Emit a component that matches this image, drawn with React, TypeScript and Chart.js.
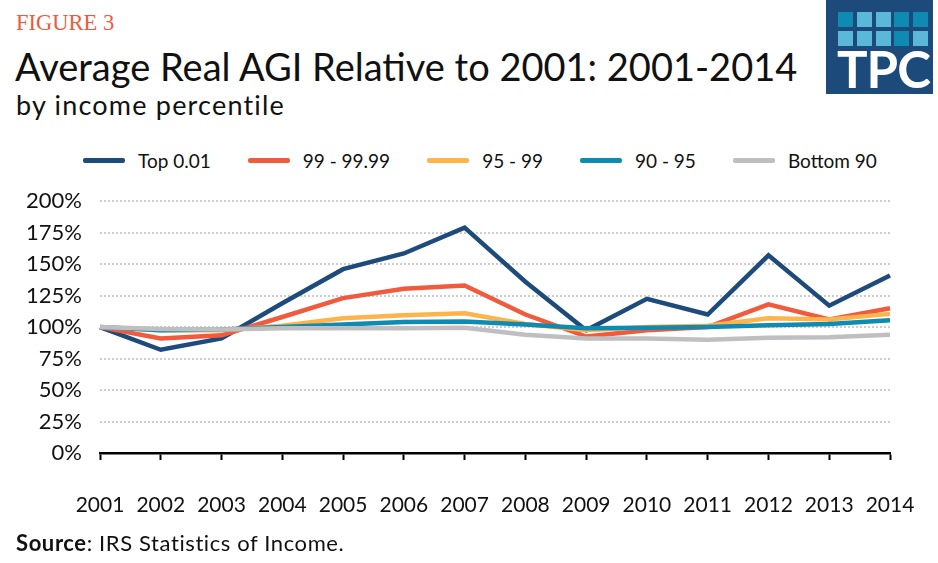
import React, { useEffect, useRef } from 'react';
import { Chart, registerables } from 'chart.js';

Chart.register(...registerables);

const years = ['2001', '2002', '2003', '2004', '2005', '2006', '2007', '2008', '2009', '2010', '2011', '2012', '2013', '2014'];
const seriesNames = ['Top 0.01', '99 - 99.99', '95 - 99', '90 - 95', 'Bottom 90'];
const top001 = [100, 82, 91, 119, 146, 158.5, 179, 136, 97.5, 122.5, 110, 157, 117, 141];
const p99to9999 = [100, 91, 93.5, 108, 123, 130.5, 133, 110, 92.5, 97.5, 100, 118, 106, 115];
const p95to99 = [100, 97.5, 97.5, 101, 107, 109.5, 111, 102.5, 97.5, 100, 101, 107, 106, 110.5];
const p90to95 = [100, 97.5, 98, 100, 102, 104, 104.5, 102, 99, 99.5, 100, 101.5, 102.5, 105.5];
const bottom90 = [100, 98.5, 98, 99, 99, 99, 99.5, 94, 91, 91, 90, 91.5, 92, 94];
const seriesValues = [top001, p99to9999, p95to99, p90to95, bottom90];
const seriesColors = ['#1c4b7c', '#f15a3d', '#fdb44b', '#0e8bb2', '#bfbfc1'];
const yMin = 0;
const yMax = 200;
const yStep = 25;

const logoRows = [
  ['#0f8ab2', '#5cb8d8', '#5cb8d8', '#0f8ab2', '#0f8ab2'],
  ['#5cb8d8', '#5cb8d8', '#5cb8d8', '#0f8ab2', '#5cb8d8'],
];

const FONT = 'Lato, "Noto Sans", sans-serif';

export default function App() {
  const canvasRef = useRef<HTMLCanvasElement>(null);

  useEffect(() => {
    const canvas = canvasRef.current;
    if (!canvas) return;
    Chart.defaults.font.family = FONT;
    const chart = new Chart(canvas, {
      type: 'line',
      data: {
        labels: years,
        datasets: seriesValues.map((vals, i) => ({
          label: seriesNames[i],
          data: vals,
          borderColor: seriesColors[i],
          backgroundColor: seriesColors[i],
          borderWidth: 4.5,
          pointRadius: 0,
          pointHoverRadius: 0,
          tension: 0,
          fill: false,
          order: seriesValues.length - 1 - i,
        })),
      },
      options: {
        responsive: false,
        animation: false,
        layout: { padding: { top: 29, right: 48, left: 0, bottom: 0 } },
        plugins: {
          legend: { display: false },
          tooltip: { enabled: false },
        },
        scales: {
          x: {
            grid: {
              drawOnChartArea: false,
              drawTicks: true,
              tickLength: 7,
              tickColor: '#000',
              tickWidth: 2,
            },
            border: { display: true, color: '#000', width: 2.5 },
            ticks: {
              padding: 33,
              color: '#111',
              font: { size: 21, family: FONT },
              maxRotation: 0,
              autoSkip: false,
            },
            afterFit: (s: any) => {
              s.height = 110;
              s.paddingLeft = 0;
              s.paddingRight = 0;
            },
          },
          y: {
            min: yMin,
            max: yMax,
            ticks: {
              stepSize: yStep,
              padding: 18,
              color: '#111',
              font: { size: 22, family: FONT },
              callback: (v: any) => v + '%',
            },
            grid: {
              drawTicks: false,
              lineWidth: 2,
              color: (ctx: any) => (ctx.tick && ctx.tick.value === 0 ? 'rgba(0,0,0,0)' : '#cdcdcd'),
            },
            border: { display: false, dash: [2, 2] },
            afterFit: (s: any) => {
              s.width = 100;
            },
          },
        },
      },
    });
    return () => chart.destroy();
  }, []);

  return (
    <div style={{ position: 'absolute', left: 0, top: 0, width: 938, height: 563, background: '#fff', overflow: 'hidden', fontFamily: FONT, color: '#111' }}>
      <div style={{ position: 'absolute', left: 16, top: 11.6, fontFamily: '"Liberation Serif", "DejaVu Serif", serif', fontSize: 22.5, lineHeight: '22px', color: '#ef5a3c', whiteSpace: 'nowrap' }}>
        FIGURE 3
      </div>
      <div style={{ position: 'absolute', left: 15, top: 46.5, fontSize: 38, lineHeight: '38px', color: '#111', whiteSpace: 'nowrap' }}>
        Average Real AGI Relative to 2001: 2001-2014
      </div>
      <div style={{ position: 'absolute', left: 16, top: 91, fontSize: 27, lineHeight: '27px', letterSpacing: 1.2, color: '#111', whiteSpace: 'nowrap' }}>
        by income percentile
      </div>

      <div style={{ position: 'absolute', left: 826, top: 0, width: 107, height: 94, background: '#1b4a7b' }}>
        {logoRows.map((row, r) => (
          <div key={r} style={{ position: 'absolute', left: 12, top: 12 + r * 18.5, display: 'flex', gap: 3.75 }}>
            {row.map((c, k) => (
              <div key={k} style={{ width: 15, height: 15, background: c }} />
            ))}
          </div>
        ))}
        <div style={{ position: 'absolute', left: 11, top: 43, fontSize: 51, lineHeight: '51px', fontWeight: 700, color: '#fff', letterSpacing: -1 }}>
          TPC
        </div>
      </div>

      <div style={{ position: 'absolute', left: 83, top: 150, height: 20, display: 'flex', alignItems: 'center', gap: 37, fontSize: 19, color: '#111', whiteSpace: 'nowrap' }}>
        {seriesNames.map((name, i) => (
          <div key={name} style={{ display: 'flex', alignItems: 'center', gap: 13 }}>
            <div style={{ width: 42, height: 5, borderRadius: 2, background: seriesColors[i] }} />
            <span>{name}</span>
          </div>
        ))}
      </div>

      <canvas ref={canvasRef} width={938} height={393} style={{ position: 'absolute', left: 0, top: 170, width: 938, height: 393 }} />

      <div style={{ position: 'absolute', left: 16, top: 532, fontSize: 22, lineHeight: '22px', letterSpacing: 0.6, color: '#111', whiteSpace: 'nowrap' }}>
        <b>Source</b>: IRS Statistics of Income.
      </div>
    </div>
  );
}
